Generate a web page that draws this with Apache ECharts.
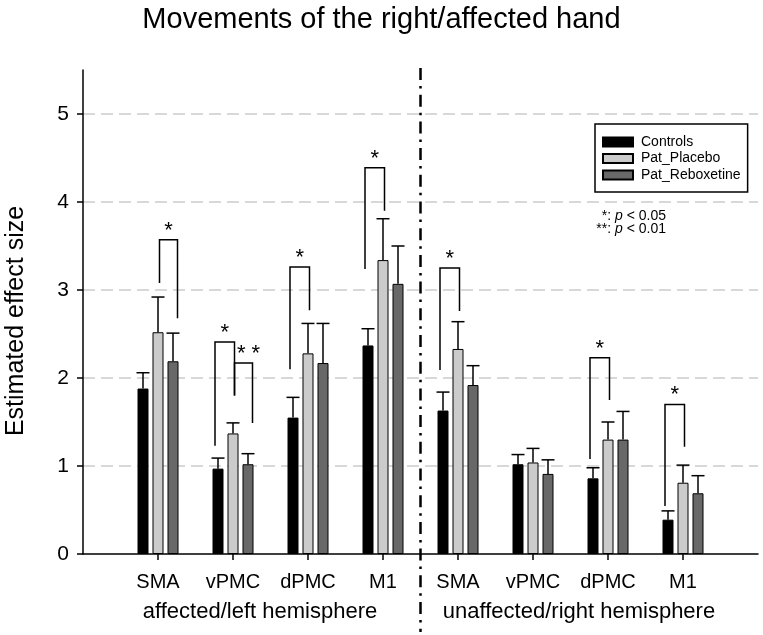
<!DOCTYPE html>
<html>
<head>
<meta charset="utf-8">
<script src="https://cdn.jsdelivr.net/npm/echarts@6/dist/echarts.min.js"></script>
<style>
  html, body { margin: 0; padding: 0; background: #fff; }
  #chart { width: 763px; height: 635px; }
</style>
</head>
<body>
<div id="chart"></div>
<script>
// empty slots at both ends so the 8 regions sit on whole ticks 1..8
const categories = ['', 'SMA', 'vPMC', 'dPMC', 'M1', 'SMA', 'vPMC', 'dPMC', 'M1', '']
const yTicks = [0, 1, 2, 3, 4, 5]
const groupNames = ['Controls', 'Pat_Placebo', 'Pat_Reboxetine']

const controls = [1.88, 0.97, 1.55, 2.37, 1.63, 1.02, 0.86, 0.39]
const controlsErr = [0.18, 0.12, 0.23, 0.19, 0.21, 0.11, 0.12, 0.10]
const placebo = [2.52, 1.37, 2.28, 3.34, 2.33, 1.04, 1.30, 0.81]
const placeboErr = [0.40, 0.12, 0.34, 0.47, 0.31, 0.16, 0.20, 0.20]
const reboxetine = [2.19, 1.02, 2.17, 3.07, 1.92, 0.91, 1.30, 0.69]
const reboxetineErr = [0.32, 0.12, 0.45, 0.43, 0.22, 0.16, 0.32, 0.20]

// [category index, from group, to group, from leg bottom, to leg bottom, top, label]
const sigBrackets = [
  [1, 1, 2, 3.08, 2.68, 3.57, '*'],
  [2, 0, 1, 1.23, 1.80, 2.41, '*'],
  [2, 1, 2, 1.80, 1.49, 2.17, '* *'],
  [3, 0, 1, 2.10, 2.77, 3.26, '*'],
  [4, 0, 1, 3.24, 3.90, 4.39, '*'],
  [5, 0, 1, 2.09, 2.76, 3.25, '*'],
  [7, 0, 1, 1.08, 1.75, 2.23, '*'],
  [8, 0, 1, 0.545, 1.22, 1.70, '*']
]

const FONT = 'Liberation Sans'
const BAR_W = 11
const BAR_STEP = 15 // bar width + gap
const legOffsets = [-18, 1.5, 19.5]

const chart = echarts.init(document.getElementById('chart'))

function barSeries (name, values, color) {
  return {
    name: name,
    type: 'bar',
    data: ['-'].concat(values, ['-']),
    barWidth: BAR_W,
    barGap: ((BAR_STEP - BAR_W) / BAR_W * 100) + '%',
    itemStyle: { color: color, borderColor: '#000', borderWidth: 1 },
    emphasis: { disabled: true },
    z: 2
  }
}

const errData = []
;[[controls, controlsErr], [placebo, placeboErr], [reboxetine, reboxetineErr]].forEach((pair, g) => {
  pair[0].forEach((v, i) => {
    errData.push([i + 1, v, pair[1][i], g])
  })
})

const lineStyle = { stroke: '#000', lineWidth: 1.5 }

chart.setOption({
  animation: false,
  title: {
    text: 'Movements of the right/affected hand',
    left: 'center',
    top: 0,
    textStyle: { fontFamily: FONT, fontSize: 29, fontWeight: 'normal', color: '#000' }
  },
  legend: {
    data: groupNames,
    orient: 'vertical',
    left: 595,
    top: 124,
    padding: [11, 7, 10, 7],
    itemWidth: 30,
    itemHeight: 9,
    itemGap: 2.5,
    icon: 'rect',
    selectedMode: false,
    borderColor: '#000',
    borderWidth: 1.5,
    textStyle: { fontFamily: FONT, fontSize: 14, color: '#000', padding: [0, 0, 0, 3] }
  },
  grid: { left: 83, right: 5, top: 70, bottom: 81, containLabel: false, outerBoundsMode: 'none' },
  xAxis: {
    type: 'category',
    data: categories,
    boundaryGap: false,
    axisLine: { lineStyle: { color: '#000', width: 1.5 } },
    axisTick: {
      length: 6,
      interval: (idx) => idx > 0 && idx < categories.length - 1,
      lineStyle: { color: '#000', width: 1.5 }
    },
    axisLabel: { interval: 0, margin: 18, fontFamily: FONT, fontSize: 20, color: '#000' },
    splitLine: { show: false }
  },
  yAxis: {
    type: 'value',
    min: 0,
    max: 5.5,
    interval: 1,
    axisLine: { show: true, lineStyle: { color: '#000', width: 1.5 } },
    axisTick: { show: true, length: 6, customValues: yTicks, lineStyle: { color: '#000', width: 1.5 } },
    axisLabel: { customValues: yTicks, margin: 14, fontFamily: FONT, fontSize: 21, color: '#000' },
    splitLine: {
      show: true,
      showMinLine: false,
      lineStyle: { color: '#cccccc', width: 1.5, type: [12, 6] }
    }
  },
  graphic: [
    {
      type: 'text', x: 16, y: 321, rotation: Math.PI / 2,
      style: { text: 'Estimated effect size', align: 'center', verticalAlign: 'middle', font: '25px "' + FONT + '"', fill: '#000' }
    },
    {
      type: 'text', x: 666, y: 216,
      style: {
        text: '*: {i|p} < 0.05', align: 'right', verticalAlign: 'middle',
        font: '14px "' + FONT + '"', fill: '#000',
        rich: { i: { fontStyle: 'italic', fontFamily: FONT, fontSize: 14 } }
      }
    },
    {
      type: 'text', x: 666, y: 229.5,
      style: {
        text: '**: {i|p} < 0.01', align: 'right', verticalAlign: 'middle',
        font: '14px "' + FONT + '"', fill: '#000',
        rich: { i: { fontStyle: 'italic', fontFamily: FONT, fontSize: 14 } }
      }
    },
    {
      type: 'text', x: 260, y: 612,
      style: { text: 'affected/left hemisphere', align: 'center', verticalAlign: 'middle', font: '22px "' + FONT + '"', fill: '#000' }
    },
    {
      type: 'text', x: 579, y: 612,
      style: { text: 'unaffected/right hemisphere', align: 'center', verticalAlign: 'middle', font: '22px "' + FONT + '"', fill: '#000' }
    }
  ],
  series: [
    barSeries(groupNames[0], controls, '#000000'),
    barSeries(groupNames[1], placebo, '#cbcbcb'),
    barSeries(groupNames[2], reboxetine, '#686868'),
    {
      // upper error whiskers
      type: 'custom',
      data: errData,
      z: 3,
      renderItem: (params, api) => {
        const off = (api.value(3) - 1) * BAR_STEP
        const p0 = api.coord([api.value(0), api.value(1)])
        const p1 = api.coord([api.value(0), api.value(1) + api.value(2)])
        const x = p0[0] + off
        return {
          type: 'group',
          children: [
            { type: 'line', shape: { x1: x, y1: p0[1], x2: x, y2: p1[1] }, style: lineStyle },
            { type: 'line', shape: { x1: x - 6.5, y1: p1[1], x2: x + 6.5, y2: p1[1] }, style: lineStyle }
          ]
        }
      }
    },
    {
      // significance brackets
      type: 'custom',
      data: sigBrackets.map(b => b.slice(0, 6)),
      z: 3,
      renderItem: (params, api) => {
        const b = sigBrackets[params.dataIndex]
        const top = api.coord([b[0], b[5]])
        const x1 = top[0] + legOffsets[b[1]]
        const x2 = top[0] + legOffsets[b[2]]
        const y1 = api.coord([b[0], b[3]])[1]
        const y2 = api.coord([b[0], b[4]])[1]
        return {
          type: 'group',
          children: [
            {
              type: 'polyline',
              shape: { points: [[x1, y1], [x1, top[1]], [x2, top[1]], [x2, y2]] },
              style: { stroke: '#000', lineWidth: 1.5, fill: null }
            },
            {
              type: 'text',
              style: {
                text: b[6], x: (x1 + x2) / 2 + (b[6].length > 1 ? 5 : 0), y: top[1] - 9,
                align: 'center', verticalAlign: 'middle',
                font: '22px "' + FONT + '"', fill: '#000'
              }
            }
          ]
        }
      }
    },
    {
      // dash-dot divider between hemispheres
      type: 'custom',
      data: [[4, 0]],
      z: 4,
      renderItem: (params, api) => {
        const x = (api.coord([4, 0])[0] + api.coord([5, 0])[0]) / 2
        const yTop = api.coord([4, 5.5])[1] - 2
        return {
          type: 'line',
          shape: { x1: x, y1: yTop, x2: x, y2: api.getHeight() - 3 },
          style: { stroke: '#000', lineWidth: 2.5, lineDash: [12, 6, 2.5, 6.2] }
        }
      }
    }
  ]
})
</script>
</body>
</html>
